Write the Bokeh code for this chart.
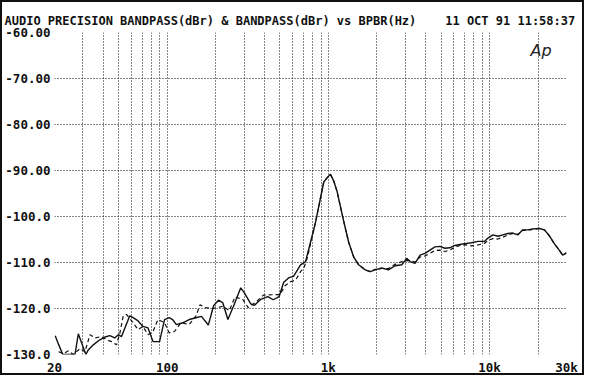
from bokeh.plotting import figure
from bokeh.models import FixedTicker, Label
from bokeh.embed import file_html
from bokeh.resources import INLINE

# ---- data ----
SOLID_HZ = [20.2, 21.2, 22.5, 26.8, 28.1, 31.3, 32.4, 34.8, 38.2, 41.1, 44.1, 47.3, 49.7, 52.1,
            58.6, 61.5, 66.0, 70.8, 76.0, 81.7, 89.7, 96.3, 103, 108, 114, 125, 137, 151, 163,
            180, 194, 208, 221, 238, 257, 286, 300, 330, 348, 381, 421, 455, 495, 528, 569, 608,
            672, 722, 832, 936, 981, 1030, 1080, 1133, 1187, 1244, 1336, 1435, 1540, 1694, 1818,
            1950, 2146, 2360, 2595, 2853, 3063, 3212, 3449, 3703, 3977, 4267, 4583, 4920, 5280,
            5665, 6085, 6535, 7020, 7720, 8475, 9330, 9770, 10490, 11270, 12090, 12980, 13930,
            14960, 16060, 17250, 18510, 20370, 21880, 23490, 25210, 27040, 28380, 30000]
SOLID_DB = [-125.9, -127.8, -130.0, -130.0, -125.5, -130.0, -129.0, -127.9, -126.8, -126.2, -125.9,
            -126.4, -125.7, -126.1, -121.6, -122.0, -122.7, -123.9, -124.2, -127.2, -127.2, -122.4,
            -122.0, -122.4, -123.5, -123.1, -122.4, -122.0, -121.7, -123.6, -119.4, -118.2, -118.7,
            -122.4, -119.6, -115.5, -116.5, -119.0, -119.3, -118.0, -117.4, -118.1, -117.4, -114.3,
            -113.3, -113.0, -110.5, -109.8, -101.3, -92.5, -91.6, -90.8, -92.3, -94.6, -97.8,
            -101.0, -105.6, -108.8, -110.5, -111.6, -112.0, -111.6, -111.2, -111.6, -110.7, -110.5,
            -109.1, -109.8, -110.2, -108.4, -108.0, -107.3, -106.6, -106.5, -106.9, -106.8, -106.3,
            -106.1, -105.9, -105.7, -105.4, -105.4, -104.7, -104.0, -104.3, -104.0, -103.7, -103.6,
            -104.0, -102.9, -102.9, -102.7, -102.6, -102.9, -104.2, -105.9, -107.3, -108.4, -107.9]

DASH_HZ = [21.2, 22.7, 24.4, 26.2, 28.8, 30.9, 33.2, 35.6, 39.2, 42.1, 45.2, 48.5, 50.9, 53.4, 55.9,
           61.5, 66.0, 70.8, 76.0, 81.7, 87.7, 96.3, 103, 111, 122, 137, 151, 160, 172, 190, 206,
           222, 243, 263, 294, 318, 358, 395, 455, 500, 540, 580, 627, 672, 705, 740, 832, 936,
           981, 1030, 1080, 1133, 1187, 1244, 1336, 1435, 1540, 1694, 1818, 1950, 2146, 2360,
           2595, 2853, 3063, 3212, 3449, 3703, 3977, 4267, 4583, 4920, 5280, 5665, 6085, 6535,
           7020, 7720, 8475, 9330, 9770, 10490, 11270, 12090, 12980, 13930, 14960, 16060, 17250,
           18510, 20370, 21880, 23490, 25210, 27040, 28380, 30000]
DASH_DB = [-129.4, -129.8, -129.2, -130.0, -128.7, -129.4, -125.7, -126.4, -126.1, -126.8, -127.2,
           -127.9, -125.3, -121.6, -121.3, -123.1, -124.6, -123.9, -125.7, -125.0, -122.4, -123.1,
           -125.3, -125.0, -123.1, -123.5, -121.6, -119.2, -119.8, -120.0, -119.8, -119.5, -120.5,
           -117.5, -118.0, -119.8, -118.5, -117.1, -117.0, -117.0, -115.0, -114.2, -113.8, -112.0,
           -111.2, -109.0, -101.3, -92.5, -91.6, -90.8, -92.3, -94.6, -97.8, -101.0, -105.6,
           -108.8, -110.5, -111.6, -112.0, -111.5, -111.3, -111.3, -110.4, -109.8, -109.6, -109.6,
           -109.9, -108.8, -108.6, -108.0, -107.4, -107.3, -107.6, -107.3, -106.7, -106.3, -106.1,
           -106.4, -106.2, -105.8, -105.2, -104.8, -104.9, -104.5, -104.0, -103.7, -103.9, -103.0,
           -103.0, -102.8, -102.6, -102.9, -104.2, -105.9, -107.3, -108.4, -107.9]

X_GRID = [20, 30, 40, 50, 60, 70, 80, 90, 100, 200, 300, 400, 500, 600, 700, 800, 900,
          1000, 2000, 3000, 4000, 5000, 6000, 7000, 8000, 9000, 10000, 20000, 30000]
X_TICKS = [20, 100, 1000, 10000, 30000]
X_LABELS = ["20", "100", "1k", "10k", "30k"]
Y_TICKS = [-130, -120, -110, -100, -90, -80, -70, -60]
Y_LABELS = ["-130.0", "-120.0", "-110.0", "-100.0", "-90.00", "-80.00", "-70.00", "-60.00"]

TITLE = "AUDIO PRECISION BANDPASS(dBr) & BANDPASS(dBr) vs BPBR(Hz)"
STAMP = "11 OCT 91 11:58:37"

MONO = "DejaVu Sans Mono"
GAP = "\u00a0" * 4

p = figure(width=584, height=375, x_axis_type="log", x_range=(20, 30000), y_range=(-130, -60),
           output_backend="svg", toolbar_location=None,
           min_border_left=52, min_border_right=20, min_border_top=30, min_border_bottom=23)
p.styles = {"border": "2px solid #111"}
p.background_fill_color = "white"
p.border_fill_color = "white"
p.outline_line_color = None

p.title.text = TITLE + GAP + STAMP
p.title.align = "left"
p.title.offset = -50
p.title.standoff = 10
p.title.text_font = MONO
p.title.text_font_style = "bold"
p.title.text_font_size = "12px"
p.title.text_color = "#111"

p.xaxis.ticker = FixedTicker(ticks=X_TICKS, minor_ticks=[])
p.xaxis.major_label_overrides = {t: l for t, l in zip(X_TICKS, X_LABELS)}
p.yaxis.ticker = FixedTicker(ticks=Y_TICKS, minor_ticks=[])
p.yaxis.major_label_overrides = {t: l for t, l in zip(Y_TICKS, Y_LABELS)}

for ax in (p.xaxis[0], p.yaxis[0]):
    ax.axis_line_color = None
    ax.major_tick_line_color = None
    ax.minor_tick_line_color = None
    ax.major_tick_in = 0
    ax.major_tick_out = 0
    ax.major_label_text_font = MONO
    ax.major_label_text_font_style = "bold"
    ax.major_label_text_font_size = "12.5px"
    ax.major_label_text_color = "#111"
p.xaxis.major_label_standoff = 5
p.yaxis.major_label_standoff = 4

p.xgrid.ticker = FixedTicker(ticks=X_GRID, minor_ticks=[])
p.ygrid.ticker = FixedTicker(ticks=Y_TICKS, minor_ticks=[])
for g in (p.xgrid[0], p.ygrid[0]):
    g.grid_line_color = "#111"
    g.grid_line_dash = "1 2"
    g.grid_line_width = 1
    g.grid_line_alpha = 1.0

p.line(DASH_HZ, DASH_DB, line_color="#111", line_width=1.2, line_dash="4 3")
p.line(SOLID_HZ, SOLID_DB, line_color="#111", line_width=1.4)

p.add_layout(Label(x=476, y=304, x_units="screen", y_units="screen", text="Ap",
                   text_font="DejaVu Sans", text_font_style="italic", text_font_size="16px",
                   text_color="#222", text_align="left", text_baseline="alphabetic"))

open("out.html", "w").write(file_html(p, INLINE))
